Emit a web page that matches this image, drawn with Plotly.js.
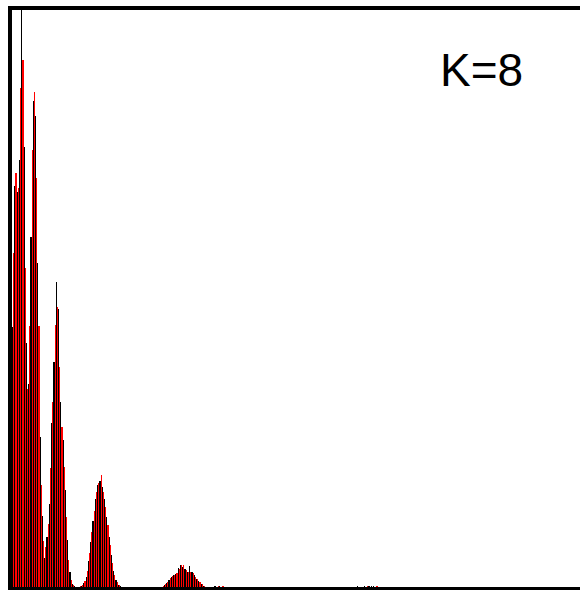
<!DOCTYPE html>
<html>
<head>
<meta charset="utf-8">
<script src="https://cdn.plot.ly/plotly-3.0.1.min.js"></script>
<style>html,body{margin:0;padding:0;background:#fff;overflow:hidden}#chart{width:580px;height:590px}</style>
</head>
<body>
<div id="chart"></div>
<script>
// Histogram bins (index) and the two interleaved series
var seriesBlack = [
  260,401,395,427,600,440,244,203,350,486, 471,324,150,71,29,50,83,164,225,305,
  278,185,147,97,47,15,3,1,0,0, 1,4,10,26,45,66,88,102,106,100,
  88,70,50,32,16,7,2,1,0,0, 0,0,0,0,0,0,0,0,0,0,
  0,0,0,0,0,0,2,4,7,10, 12,13,19,22,20,18,15,21,15,12,
  8,6,3,1,0,0,0,0,0.6,0, 0.6,0,0,0,0,0,0,0,0,0,
  0,0,0,0,0,0,0,0,0,0, 0,0,0,0,0,0,0,0,0,0,
  0,0,0,0,0,0,0,0,0,0, 0,0,0,0,0,0,0,0,0,0,
  0,0,0,0,0,0,0,0,0,0, 1.5,0,0,1.5,0,1.5,1.5,1.5,0,0
];
var seriesRed = [
  334,414,399,499,527,319,198,261,437,495, 409,261,102,46,40,63,119,185,262,280,
  220,160,120,70,27,7,2,0,0,1, 2,6,16,34,55,76,95,104,112,95,
  80,62,42,24,12,5,2,0,0,0, 0,0,0,0,0,0,0,0,0,0,
  0,0,0,0,0,1,3,5,9,11, 12,14,18,22,22,17,15,15,14,10,
  8,5,3,1,0,0,0,0,0,0.6, 0,0.6,0,0,0,0,0,0,0,0,
  0,0,0,0,0,0,0,0,0,0, 0,0,0,0,0,0,0,0,0,0,
  0,0,0,0,0,0,0,0,0,0, 0,0,0,0,0,0,0,0,0,0,
  0,0,0,0,0,0,0,0,0,0, 0,0,0,0,1,0,0,0,1,0
];
var bins = [];
for (var i = 0; i < seriesBlack.length; i++) bins.push(i);
var label = "K=8";

var W = 580, H = 590;
var L = 12, T = 10, B = 3, R = 0;
var pw = W - L - R, ph = H - T - B;

var traces = [
  {type: 'bar', x: bins, y: seriesBlack, marker: {color: '#000000', line: {width: 0}}, hoverinfo: 'none'},
  {type: 'bar', x: bins, y: seriesRed, marker: {color: '#ff0000', line: {width: 0}}, hoverinfo: 'none'}
];

var layout = {
  width: W, height: H,
  margin: {l: L, r: R, t: T, b: B, pad: 0},
  paper_bgcolor: '#ffffff', plot_bgcolor: '#ffffff',
  showlegend: false,
  barmode: 'group', bargap: 0, bargroupgap: 0,
  xaxis: {range: [-0.5, 246.5], showticklabels: false, ticks: '', showgrid: false, zeroline: false, showline: false, fixedrange: true},
  yaxis: {range: [0, 577], showticklabels: false, ticks: '', showgrid: false, zeroline: false, showline: false, fixedrange: true},
  shapes: [
    {type: 'line', xref: 'paper', yref: 'paper', x0: -2/pw, x1: -2/pw, y0: -0.02, y1: 1 + 4/ph, line: {color: '#000', width: 4}},
    {type: 'line', xref: 'paper', yref: 'paper', x0: -4/pw, x1: 1.02, y0: 1 + 2/ph, y1: 1 + 2/ph, line: {color: '#000', width: 4}},
    {type: 'line', xref: 'paper', yref: 'paper', x0: -4/pw, x1: 1.02, y0: -1.5/ph, y1: -1.5/ph, line: {color: '#000', width: 3}}
  ],
  annotations: [
    {text: label, xref: 'paper', yref: 'paper', x: (481.7 - L)/pw, y: (587 - 70)/ph, xanchor: 'center', yanchor: 'middle', showarrow: false,
     font: {family: 'Liberation Sans, Arial, sans-serif', size: 46, color: '#000'}}
  ]
};

Plotly.newPlot('chart', traces, layout, {staticPlot: true, displayModeBar: false});
</script>
</body>
</html>
